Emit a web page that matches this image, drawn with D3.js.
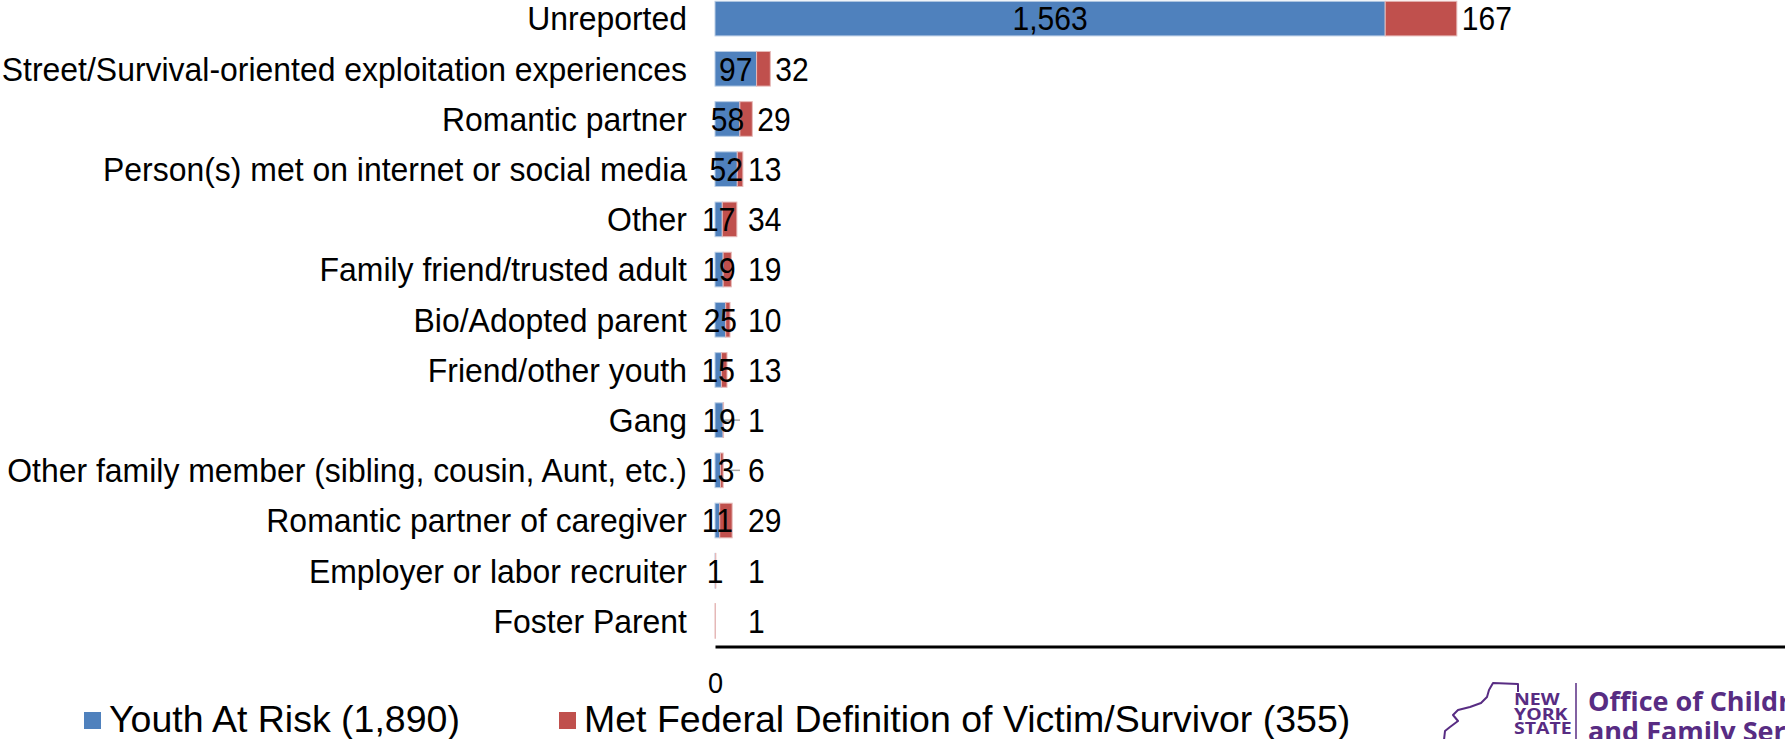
<!DOCTYPE html>
<html>
<head>
  <meta charset="utf-8">
  <script src="https://d3js.org/d3.v7.min.js"></script>
  <style>
    body { margin: 0; background: #fff; }
    svg { display: block; font-family: "Liberation Sans", Arial, sans-serif; }
    .cat { font-size: 33px; fill: #000; }
    .val { font-size: 33px; fill: #000; }
    .leg { font-size: 37.5px; fill: #000; }
    .logo { font-family: "Open Sans", "Noto Sans", sans-serif; font-weight: 700; fill: #582c83; }
  </style>
</head>
<body>
<script>
  // values
  var categories = [
    "Unreported",
    "Street/Survival-oriented exploitation experiences",
    "Romantic partner",
    "Person(s) met on internet or social media",
    "Other",
    "Family friend/trusted adult",
    "Bio/Adopted parent",
    "Friend/other youth",
    "Gang",
    "Other family member (sibling, cousin, Aunt, etc.)",
    "Romantic partner of caregiver",
    "Employer or labor recruiter",
    "Foster Parent"
  ];
  var youthAtRisk = [1563, 97, 58, 52, 17, 19, 25, 15, 19, 13, 11, 1, 0];
  var metFederal  = [167, 32, 29, 13, 34, 19, 10, 13, 1, 6, 29, 1, 1];
  var seriesNames = ["Youth At Risk (1,890)", "Met Federal Definition of Victim/Survivor (355)"];
  var seriesColors = ["#4f81bd", "#c0504d"];
  var xTicks = [0];
  // labels that Excel drew with a leader line
  var leaderRows = ["Gang", "Other family member (sibling, cousin, Aunt, etc.)"];

  var width = 1785, height = 739;

  var svg = d3.select("body").append("svg")
      .attr("width", width)
      .attr("height", height);

  var x = d3.scaleLinear().domain([0, 2500]).range([715, 1787]);
  var y = d3.scaleBand().domain(categories)
      .range([-6.5, 646]).paddingInner(0.31).paddingOuter(0.155);

  var rows = categories.map(function(c, i) {
    return { cat: c, a: youthAtRisk[i], b: metFederal[i] };
  });
  function mid(d) { return y(d.cat) + y.bandwidth() / 2; }
  // the original picture is a bit stretched vertically, so text is squeezed sideways
  function place(px, py, sx) { return "translate(" + px + "," + py + ") scale(" + sx + ",1)"; }

  // bars
  var g = svg.append("g");
  g.selectAll("rect.a").data(rows).enter().append("rect")
      .attr("class", "a")
      .attr("x", x(0))
      .attr("y", function(d) { return y(d.cat); })
      .attr("width", function(d) { return x(d.a) - x(0); })
      .attr("height", y.bandwidth())
      .attr("fill", seriesColors[0])
      .attr("stroke", "#b9cde5").attr("stroke-width", 1);
  g.selectAll("rect.b").data(rows).enter().append("rect")
      .attr("class", "b")
      .attr("x", function(d) { return x(d.a); })
      .attr("y", function(d) { return y(d.cat); })
      .attr("width", function(d) { return x(d.a + d.b) - x(d.a); })
      .attr("height", y.bandwidth())
      .attr("fill", seriesColors[1])
      .attr("stroke", "#e6b9b8").attr("stroke-width", 1);

  // category labels
  svg.selectAll("text.cat").data(rows).enter().append("text")
      .attr("class", "cat")
      .attr("transform", function(d) { return place(687, mid(d), 0.968); })
      .attr("dy", "0.36em")
      .attr("text-anchor", "end")
      .text(function(d) { return d.cat; });

  // x axis
  var axis = svg.append("g")
      .attr("transform", "translate(0,646.5)")
      .call(d3.axisBottom(x).tickValues(xTicks).tickSize(0).tickPadding(26));
  axis.select(".domain").attr("stroke", "#000").attr("stroke-width", 3);
  axis.selectAll("text")
      .attr("font-family", "Liberation Sans, Arial, sans-serif")
      .attr("font-size", 29.5).attr("fill", "#000")
      .attr("transform", "scale(0.92,1)");

  var fmt = d3.format(",");

  // leader lines
  svg.selectAll("line.leader").data(rows.filter(function(d) { return leaderRows.indexOf(d.cat) >= 0; }))
    .enter().append("line")
      .attr("x1", function(d) { return x(d.a + d.b) + 0.5; })
      .attr("x2", x(0) + 25)
      .attr("y1", mid).attr("y2", mid)
      .attr("stroke", "#a6a6a6").attr("stroke-width", 1.5);

  // value labels: blue centred, red to the right of the bar
  svg.selectAll("text.va").data(rows.filter(function(d) { return d.a > 0; }))
    .enter().append("text")
      .attr("class", "val")
      .attr("transform", function(d) { return place((x(0) + x(d.a)) / 2, mid(d), 0.91); })
      .attr("dy", "0.36em")
      .attr("text-anchor", "middle")
      .text(function(d) { return fmt(d.a); });
  svg.selectAll("text.vb").data(rows).enter().append("text")
      .attr("class", "val")
      .attr("transform", function(d) { return place(Math.max(x(d.a + d.b) + 5, x(0) + 33), mid(d), 0.91); })
      .attr("dy", "0.36em")
      .text(function(d) { return fmt(d.b); });

  // legend
  var legX = [84, 559];
  var leg = svg.selectAll("g.leg").data(seriesNames).enter().append("g")
      .attr("transform", function(d, i) { return "translate(" + legX[i] + ",0)"; });
  leg.append("rect")
      .attr("x", 0).attr("y", 712).attr("width", 17).attr("height", 17)
      .attr("fill", function(d, i) { return seriesColors[i]; });
  leg.append("text")
      .attr("class", "leg")
      .attr("x", 25).attr("y", 732)
      .text(function(d) { return d; });

  // agency logo, bottom right
  var logo = svg.append("g");
  logo.append("path")
      .attr("d", "M1518,692 L1518,684 L1493,683 L1489,690 L1487,697 L1481,703 L1470,707 L1458,710 L1453,715 L1458,721 L1450,727 L1445,731 L1444,740")
      .attr("fill", "none").attr("stroke", "#582c83").attr("stroke-width", 2)
      .attr("stroke-linejoin", "round");
  ["NEW", "YORK", "STATE"].forEach(function(t, i) {
    logo.append("text").attr("class", "logo")
        .attr("transform", "translate(1514," + (705 + i * 14.5) + ") scale(1,0.85)")
        .attr("font-size", 19.5)
        .text(t);
  });
  logo.append("line")
      .attr("x1", 1576).attr("x2", 1576).attr("y1", 683).attr("y2", 739)
      .attr("stroke", "#582c83").attr("stroke-width", 1.5);
  logo.append("text").attr("class", "logo")
      .attr("x", 1588).attr("y", 711).attr("font-size", 27)
      .text("Office of Children");
  logo.append("text").attr("class", "logo")
      .attr("x", 1588).attr("y", 741).attr("font-size", 27)
      .text("and Family Services");
</script>
</body>
</html>
